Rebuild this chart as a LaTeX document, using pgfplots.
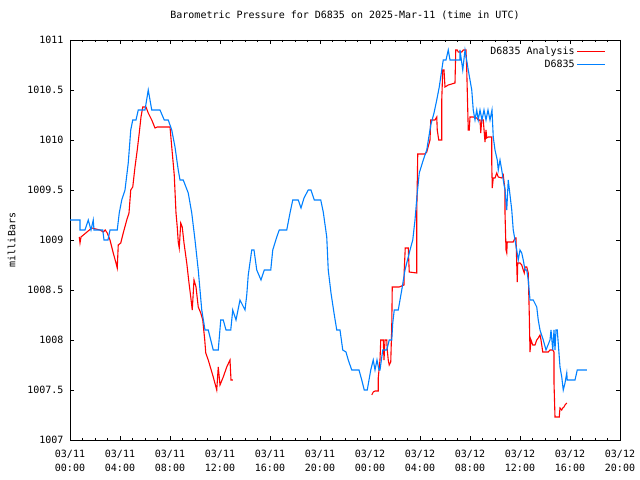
\documentclass[border=0pt]{standalone}
\usepackage{fontspec}
\setmainfont{DejaVu Sans Mono}
\usepackage{pgfplots}
\pgfplotsset{compat=1.18}
\definecolor{gred}{RGB}{255,0,0}
\definecolor{gblue}{RGB}{0,128,255}
\begin{document}
\begin{tikzpicture}
\useasboundingbox (0bp,0bp) rectangle (640bp,480bp);
\begin{axis}[
  scale only axis,
  width=550bp, height=400bp,
  at={(70bp,40bp)}, anchor=south west,
  xmin=0, xmax=44, ymin=1007, ymax=1011,
  xtick={0,4,...,44},
  xticklabels={{03/11\\00:00},{03/11\\04:00},{03/11\\08:00},{03/11\\12:00},{03/11\\16:00},{03/11\\20:00},{03/12\\00:00},{03/12\\04:00},{03/12\\08:00},{03/12\\12:00},{03/12\\16:00},{03/12\\20:00}},
  xticklabel style={align=center, font=\fontsize{10bp}{14bp}\selectfont, yshift=-6.5bp},
  minor x tick num=3,
  ytick={1007,1007.5,1008,1008.5,1009,1009.5,1010,1010.5,1011},
  yticklabels={1007,1007.5,1008,1008.5,1009,1009.5,1010,1010.5,1011},
  yticklabel style={font=\fontsize{10bp}{12bp}\selectfont, xshift=-3bp},
  tick align=inside,
  major tick length=4bp, minor tick length=2bp,
  tick style={black, line width=0.8bp},
  axis line style={black, line width=0.8bp},
  /pgf/number format/assume math mode=true,
  title={Barometric Pressure for D6835 on 2025-Mar-11 (time in UTC)},
  title style={at={(0.5,1)}, anchor=base, yshift=16bp, font=\fontsize{10bp}{12bp}\selectfont},
  ylabel={milliBars},
  ylabel style={at={(axis description cs:0,0.5)}, anchor=center, yshift=58.5bp, font=\fontsize{10bp}{12bp}\selectfont},
  unbounded coords=jump,
  legend plot pos=right,
  legend cell align=right,
  legend image code/.code={\draw[#1] (4bp,0bp) -- (32bp,0bp);},
  legend style={draw=none, fill=none, at={(1,1)}, anchor=north east, xshift=-11bp, yshift=-3bp,
    font=\fontsize{10bp}{12bp}\selectfont, row sep=0bp},
]
\addplot[gred, line width=1.1bp] coordinates {
(0.74,1009.03) (0.8,1008.97) (0.88,1009.03) (1.74,1009.12) (2.4,1009.1) (2.66,1009.08)
(2.82,1009.1) (2.98,1009.07) (3.2,1009.0) (3.46,1008.87) (3.68,1008.77) (3.78,1008.72)
(3.86,1008.95) (4.06,1008.97) (4.26,1009.07) (4.54,1009.2) (4.72,1009.27) (4.86,1009.5)
(5.02,1009.53) (5.2,1009.73) (5.38,1009.9) (5.54,1010.07) (5.68,1010.23) (5.82,1010.33)
(6.08,1010.33) (6.26,1010.27) (6.54,1010.2) (6.8,1010.12) (6.98,1010.13) (7.2,1010.13)
(8.0,1010.13) (8.14,1009.93) (8.34,1009.65) (8.48,1009.27) (8.58,1009.13) (8.66,1008.98)
(8.74,1008.92) (8.86,1009.17) (8.98,1009.13) (9.12,1008.97) (9.34,1008.77) (9.52,1008.57)
(9.66,1008.43) (9.78,1008.3) (9.92,1008.6) (10.08,1008.53) (10.26,1008.33) (10.46,1008.27)
(10.62,1008.2) (10.78,1008.0) (10.86,1007.87) (11.06,1007.8) (11.46,1007.63) (11.74,1007.5)
(11.86,1007.73) (12.0,1007.55) (12.26,1007.63) (12.54,1007.73) (12.8,1007.8) (12.88,1007.6)
(13.02,1007.6)
(18,nan)
(24.14,1007.45) (24.26,1007.48) (24.4,1007.49) (24.66,1007.49) (24.66,1007.62) (24.8,1007.8)
(24.86,1008.0) (25.06,1008.0) (25.12,1007.8) (25.2,1008.0) (25.34,1008.0) (25.38,1007.9)
(25.46,1007.8) (25.54,1007.75) (25.66,1007.78) (25.74,1008.13) (25.78,1008.53) (26.34,1008.53)
(26.72,1008.55) (26.74,1008.7) (26.82,1008.92) (27.06,1008.92) (27.14,1008.68) (27.74,1008.67)
(27.74,1009.27) (27.82,1009.86) (28.4,1009.86) (28.54,1009.88) (28.8,1010.0) (28.86,1010.2)
(29.2,1010.2) (29.34,1010.23) (29.38,1010.1) (29.5,1010.0) (29.74,1010.0) (29.74,1010.4)
(29.82,1010.7) (29.92,1010.7) (30.0,1010.53) (30.26,1010.55) (30.8,1010.57) (30.86,1010.9)
(30.98,1010.9) (31.06,1010.88) (31.34,1010.88) (31.46,1010.9) (31.68,1010.9) (31.74,1010.7)
(31.86,1010.1) (31.94,1010.1) (32.0,1010.23) (32.26,1010.23) (32.54,1010.22) (32.66,1010.2)
(32.8,1010.2) (32.86,1010.07) (32.94,1010.2) (33.06,1010.2) (33.2,1009.98) (33.28,1010.1)
(33.34,1010.02) (33.46,1010.03) (33.74,1010.03) (33.74,1009.77) (33.78,1009.52) (33.86,1009.62)
(34.0,1009.62) (34.14,1009.67) (34.26,1009.63) (34.54,1009.62) (34.66,1009.65) (34.8,1009.5)
(34.8,1009.27) (34.88,1008.9) (34.94,1008.87) (34.98,1008.98) (35.46,1008.98) (35.6,1009.02)
(35.68,1009.02) (35.78,1008.58) (35.82,1008.77) (36.0,1008.77) (36.14,1008.75) (36.26,1008.7)
(36.34,1008.67) (36.4,1008.73) (36.54,1008.73) (36.66,1008.67) (36.74,1008.27) (36.8,1007.88)
(36.88,1008.0) (37.02,1007.95) (37.2,1007.95) (37.34,1008.0) (37.46,1008.02) (37.6,1008.05)
(37.68,1008.0) (37.82,1007.88) (38.26,1007.88) (38.4,1007.9) (38.62,1007.9) (38.72,1007.88)
(38.72,1007.57) (38.8,1007.23) (39.14,1007.23) (39.2,1007.32) (39.34,1007.3) (39.42,1007.32)
(39.52,1007.33) (39.6,1007.35) (39.74,1007.37)
};
\addlegendentry{D6835 Analysis}
\addplot[gblue, line width=1.1bp] coordinates {
(0,1009.2) (0.8,1009.2) (0.8,1009.1) (1.2,1009.1) (1.46,1009.2) (1.68,1009.1) (1.86,1009.2)
(1.92,1009.1) (2.62,1009.1) (2.72,1009.0) (3.04,1009.0) (3.2,1009.1) (3.78,1009.1)
(3.94,1009.27) (4.14,1009.4) (4.4,1009.5) (4.66,1009.77) (4.86,1010.1) (5.02,1010.2)
(5.28,1010.2) (5.46,1010.3) (6.0,1010.3) (6.26,1010.5) (6.54,1010.3) (7.2,1010.3)
(7.54,1010.2) (7.86,1010.2) (8.14,1010.1) (8.4,1009.93) (8.66,1009.7) (8.8,1009.6)
(9.06,1009.6) (9.46,1009.47) (9.74,1009.27) (10.0,1009.0) (10.26,1008.7) (10.54,1008.3)
(10.8,1008.1) (11.06,1008.1) (11.46,1007.9) (11.86,1007.9) (12.06,1008.2) (12.26,1008.2)
(12.48,1008.1) (12.86,1008.1) (13.02,1008.3) (13.28,1008.2) (13.6,1008.4) (14.0,1008.3)
(14.14,1008.45) (14.26,1008.65) (14.54,1008.9) (14.72,1008.9) (14.94,1008.7) (15.28,1008.6)
(15.54,1008.7) (16.06,1008.7) (16.22,1008.9) (16.54,1009.03) (16.74,1009.1) (17.34,1009.1)
(17.6,1009.27) (17.82,1009.4) (18.26,1009.4) (18.48,1009.32) (18.72,1009.42) (19.06,1009.5)
(19.28,1009.5) (19.54,1009.4) (20.06,1009.4) (20.26,1009.28) (20.54,1009.03) (20.66,1008.7)
(20.88,1008.47) (21.12,1008.27) (21.34,1008.1) (21.6,1008.1) (21.82,1007.9) (22.08,1007.88)
(22.26,1007.8) (22.54,1007.7) (23.12,1007.7) (23.34,1007.6) (23.54,1007.5) (23.78,1007.5)
(24.06,1007.7) (24.26,1007.8) (24.4,1007.7) (24.56,1007.8) (24.72,1007.7) (24.8,1007.7)
(25.02,1007.9) (25.34,1007.9) (25.54,1008.0) (25.74,1008.0) (25.82,1008.17) (25.94,1008.3)
(26.26,1008.3) (26.54,1008.5) (26.8,1008.7) (27.2,1008.9) (27.42,1009.0) (27.6,1009.2)
(27.78,1009.47) (27.94,1009.67) (28.26,1009.8) (28.54,1009.9) (28.86,1010.15) (29.12,1010.27)
(29.34,1010.4) (29.54,1010.53) (29.74,1010.7) (29.86,1010.8) (30.08,1010.8) (30.26,1010.9)
(30.4,1010.8) (31.2,1010.8) (31.2,1010.9) (31.42,1010.7) (31.6,1010.9) (31.86,1010.7)
(32.14,1010.5) (32.26,1010.3) (32.4,1010.2) (32.54,1010.3) (32.66,1010.2) (32.8,1010.3)
(32.96,1010.2) (33.12,1010.3) (33.28,1010.2) (33.44,1010.3) (33.6,1010.2) (33.76,1010.3)
(33.86,1010.03) (34.0,1009.9) (34.18,1009.8) (34.26,1009.7) (34.4,1009.8) (34.54,1009.7)
(34.66,1009.6) (34.8,1009.5) (34.94,1009.3) (35.06,1009.6) (35.2,1009.45) (35.34,1009.3)
(35.46,1009.1) (35.6,1009.0) (35.74,1008.9) (35.86,1008.8) (36.0,1008.9) (36.14,1008.87)
(36.26,1008.8) (36.4,1008.7) (36.54,1008.7) (36.66,1008.6) (36.8,1008.4) (37.06,1008.4)
(37.34,1008.33) (37.46,1008.2) (37.6,1008.1) (37.86,1008.0) (38.08,1007.9) (38.4,1008.0)
(38.48,1008.1) (38.62,1007.9) (38.72,1008.1) (38.8,1007.9) (38.88,1008.1) (38.98,1008.1)
(39.1,1007.9) (39.2,1007.73) (39.34,1007.63) (39.46,1007.5) (39.6,1007.57) (39.74,1007.67)
(39.78,1007.6) (40.4,1007.6) (40.58,1007.7) (41.34,1007.7)
};
\addlegendentry{D6835}
\end{axis}
\end{tikzpicture}
\end{document}
